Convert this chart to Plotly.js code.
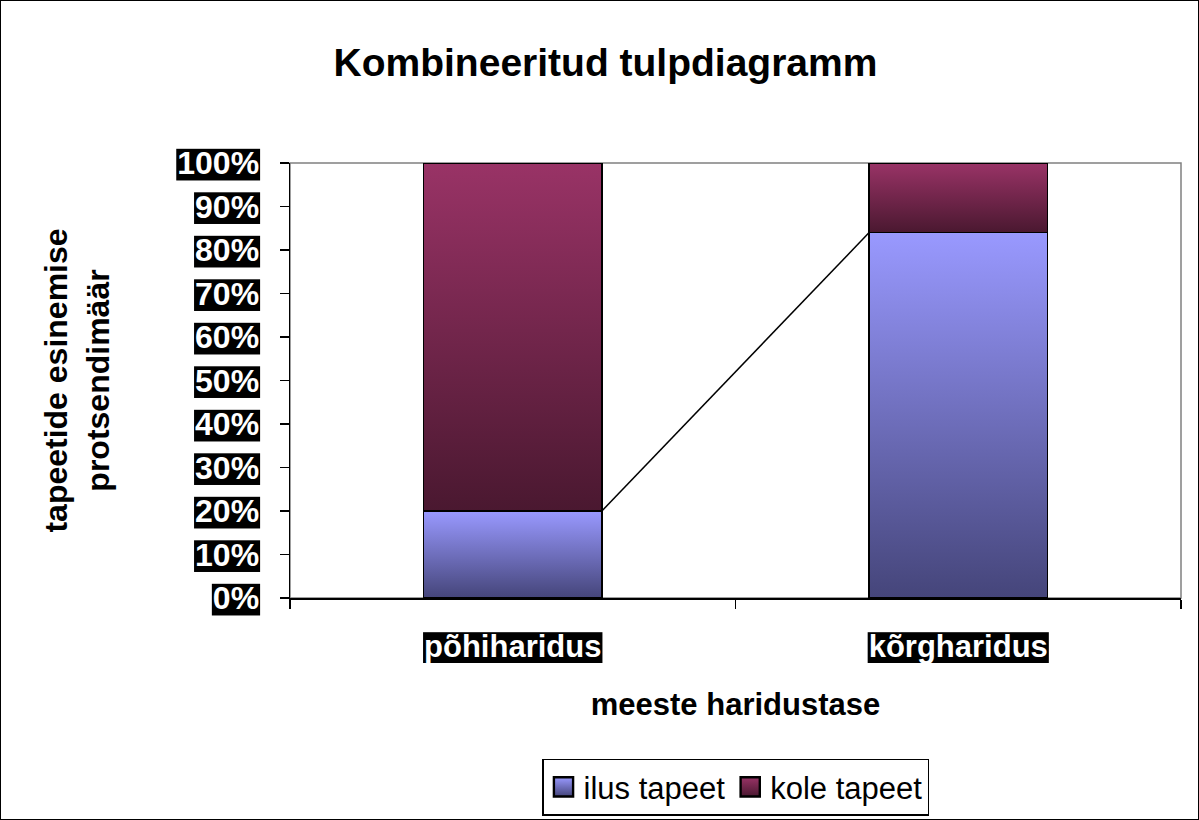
<!DOCTYPE html>
<html>
<head>
<meta charset="utf-8">
<script src="https://cdn.plot.ly/plotly-3.0.1.min.js"></script>
<style>
  body { margin: 0; background: #fff; }
  #chart { width: 1197px; height: 818px; border: 1px solid #000; }
</style>
</head>
<body>
<div id="chart"></div>
<script>
// Datos
const categories = ['põhiharidus', 'kõrgharidus'];
const ilusTapeet = [20, 84];
const koleTapeet = [80, 16];
const yTicks = [0, 10, 20, 30, 40, 50, 60, 70, 80, 90, 100];

const barWidth = 0.4;
const FONT = '"Liberation Sans", Arial, sans-serif';
const catIdx = categories.map((c, i) => i);

const data = [
    {
        x: catIdx,
        y: ilusTapeet,
        name: 'ilus tapeet',
        type: 'bar',
        width: barWidth,
        marker: { color: '#9999FF', line: { color: '#000', width: 1.5 } },
        hoverinfo: 'y'
    },
    {
        x: catIdx,
        y: koleTapeet,
        name: 'kole tapeet',
        type: 'bar',
        width: barWidth,
        marker: { color: '#993366', line: { color: '#000', width: 1.5 } },
        hoverinfo: 'y'
    },
    {
        // linea de serie entre las barras
        x: [catIdx[0] + barWidth / 2, catIdx[1] - barWidth / 2],
        y: ilusTapeet,
        type: 'scatter',
        mode: 'lines',
        line: { color: '#000', width: 1.5 },
        showlegend: false,
        hoverinfo: 'none'
    }
];

const layout = {
    width: 1197,
    height: 818,
    paper_bgcolor: '#fff',
    plot_bgcolor: '#fff',
    font: { family: FONT, color: '#000' },
    title: {
        text: '<b>Kombineeritud tulpdiagramm</b>',
        font: { size: 39, family: FONT, color: '#000' },
        xref: 'container', x: 0.505,
        yref: 'container', y: 0.925, yanchor: 'middle'
    },
    barmode: 'stack',
    margin: { l: 289, r: 17, t: 162, b: 221, pad: 0 },
    xaxis: {
        range: [-0.5, 1.5],
        tickmode: 'array',
        tickvals: catIdx,
        ticktext: categories.map(c => '<b>' + c + '</b>'),
        ticks: '',
        tickfont: { size: 31, color: '#fff', family: FONT },
        ticklabelstandoff: 20,
        showgrid: false,
        zeroline: false,
        showline: true,
        linecolor: '#000',
        linewidth: 1.5,
        minor: { tickmode: 'array', tickvals: [-0.5, 0.5, 1.5], ticks: 'outside', ticklen: 9, tickcolor: '#000', tickwidth: 1.5, showgrid: false },
        title: {
            text: '<b>meeste haridustase</b>',
            font: { size: 31, family: FONT, color: '#000' },
            standoff: 30
        },
        fixedrange: true
    },
    yaxis: {
        range: [0, 100],
        tickmode: 'array',
        tickvals: yTicks,
        ticktext: yTicks.map(v => '<b>' + v + '%</b>'),
        ticks: 'outside',
        ticklen: 9,
        tickwidth: 1.5,
        tickcolor: '#000',
        tickfont: { size: 32, color: '#fff', family: FONT },
        ticklabelstandoff: 14,
        showgrid: false,
        zeroline: false,
        showline: true,
        linecolor: '#000',
        linewidth: 1.5,
        title: {
            text: '<b>tapeetide esinemise<br>protsendimäär</b>',
            font: { size: 32, family: FONT, color: '#000' },
            standoff: 58
        },
        fixedrange: true
    },
    shapes: [
        {
            type: 'rect', xref: 'paper', yref: 'paper',
            x0: 0, x1: 1, y0: 0, y1: 1,
            line: { color: '#808080', width: 1.5 },
            layer: 'below'
        }
    ],
    legend: {
        orientation: 'h',
        traceorder: 'normal',
        xref: 'paper', x: 0.5, xanchor: 'center',
        yref: 'container', y: 0.004, yanchor: 'bottom',
        bordercolor: '#000',
        borderwidth: 1.5,
        font: { size: 31, family: FONT, color: '#000' },
        itemclick: false
    },
    showlegend: true,
    hovermode: 'closest'
};

const config = { responsive: false, displayModeBar: false, staticPlot: true };

const gradients = [
    { id: 'gradIlus', top: '#9999FF', bottom: '#45457A' },
    { id: 'gradKole', top: '#993366', bottom: '#4A1830' }
];

// Degradados y fondos negros de etiquetas
function decorar(gd) {
    const ns = 'http://www.w3.org/2000/svg';
    const svg = gd.querySelector('svg.main-svg');
    const defs = svg.querySelector('defs');
    gradients.forEach(g => {
        const lg = document.createElementNS(ns, 'linearGradient');
        lg.setAttribute('id', g.id);
        lg.setAttribute('x1', '0'); lg.setAttribute('y1', '0');
        lg.setAttribute('x2', '0'); lg.setAttribute('y2', '1');
        [[0, g.top], [1, g.bottom]].forEach(([o, c]) => {
            const s = document.createElementNS(ns, 'stop');
            s.setAttribute('offset', o);
            s.setAttribute('stop-color', c);
            lg.appendChild(s);
        });
        defs.appendChild(lg);
    });

    gd.querySelectorAll('.barlayer .trace').forEach((tr, i) => {
        tr.querySelectorAll('path').forEach(p => { p.style.fill = 'url(#' + gradients[i].id + ')'; });
    });
    gd.querySelectorAll('.legend .traces').forEach((tr, i) => {
        tr.querySelectorAll('.legendpoints path').forEach(p => {
            p.style.fill = 'url(#' + gradients[i].id + ')';
            const tf = p.getAttribute('transform') || '';
            p.setAttribute('transform', tf + ' scale(1.6)');
        });
    });

    gd.querySelectorAll('.yaxislayer-above .ytick text, .xaxislayer-above .xtick text').forEach(t => {
        const bb = t.getBBox();
        const r = document.createElementNS(ns, 'rect');
        r.setAttribute('x', bb.x - 1);
        r.setAttribute('y', bb.y + bb.height * 0.1);
        r.setAttribute('width', bb.width + 2);
        r.setAttribute('height', bb.height * 0.88);
        r.setAttribute('fill', '#000');
        const tf = t.getAttribute('transform');
        if (tf) r.setAttribute('transform', tf);
        t.parentNode.insertBefore(r, t);
    });
}

const gd = document.getElementById('chart');
Plotly.newPlot(gd, data, layout, config).then(decorar);
</script>
</body>
</html>
